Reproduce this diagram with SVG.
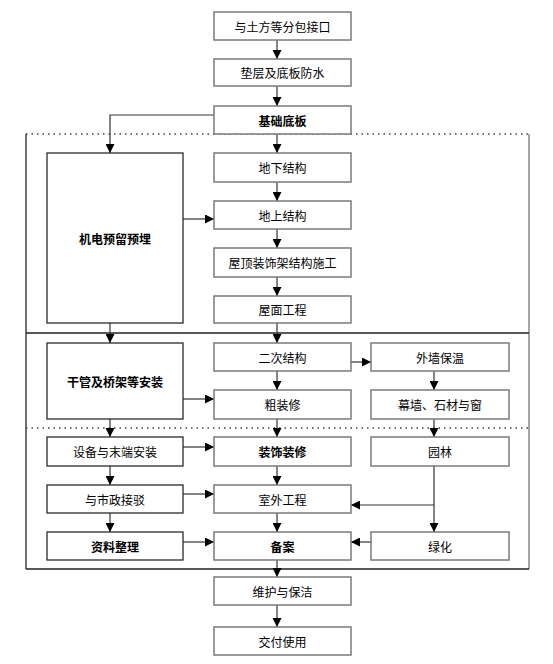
<svg xmlns="http://www.w3.org/2000/svg" width="553" height="664" viewBox="0 0 553 664">
<style>
.b{fill:#fff;stroke:#7a7a7a;stroke-width:1.5}
.l{stroke:#2a2a2a;stroke-width:1.3}
.t{font-family:"Noto Sans CJK SC","Noto Sans CJK TC",sans-serif;font-size:12px;fill:#000;text-anchor:middle;dominant-baseline:central}
.k{font-weight:bold}
.c{fill:none;stroke:#333;stroke-width:1.2}
.f{fill:none;stroke:#222;stroke-width:1.3}
.d{fill:none;stroke:#444;stroke-width:1.5;stroke-dasharray:1.5 4}
</style>
<defs>
<marker id="a" viewBox="0 0 10 10" refX="10" refY="5" markerWidth="9" markerHeight="9" markerUnits="userSpaceOnUse" orient="auto"><path d="M0,0 L10,5 L0,10 z" fill="#000"/></marker>
</defs>
<rect width="553" height="664" fill="#fff"/>
<g id="frame">
<line class="d" x1="26" y1="134" x2="529" y2="134"/>
<line class="f" x1="26" y1="134" x2="26" y2="569"/>
<line x1="529" y1="134" x2="529" y2="569" stroke="#888" stroke-width="1.5"/>
<line class="f" x1="26" y1="569" x2="529" y2="569"/>
<line class="f" x1="26" y1="333" x2="529" y2="333"/>
<line class="d" x1="26" y1="428" x2="529" y2="428"/>
</g>
<g id="connectors">
<line class="c" x1="277" y1="40" x2="277" y2="59" marker-end="url(#a)"/>
<line class="c" x1="277" y1="86" x2="277" y2="106" marker-end="url(#a)"/>
<line class="c" x1="277" y1="134" x2="277" y2="153" marker-end="url(#a)"/>
<polyline class="c" points="214,115 110,115 110,153" marker-end="url(#a)"/>
<line class="c" x1="277" y1="182" x2="277" y2="201" marker-end="url(#a)"/>
<line class="c" x1="183" y1="219" x2="214" y2="219" marker-end="url(#a)"/>
<line class="c" x1="277" y1="229" x2="277" y2="248" marker-end="url(#a)"/>
<line class="c" x1="277" y1="277" x2="277" y2="296" marker-end="url(#a)"/>
<line class="c" x1="277" y1="323" x2="277" y2="343" marker-end="url(#a)"/>
<line class="c" x1="110" y1="323" x2="110" y2="343" marker-end="url(#a)"/>
<line class="c" x1="351" y1="362" x2="371" y2="362" marker-end="url(#a)"/>
<line class="c" x1="434" y1="371" x2="434" y2="390" marker-end="url(#a)"/>
<line class="c" x1="277" y1="371" x2="277" y2="390" marker-end="url(#a)"/>
<line class="c" x1="183" y1="399" x2="214" y2="399" marker-end="url(#a)"/>
<line class="c" x1="110" y1="419" x2="110" y2="437" marker-end="url(#a)"/>
<line class="c" x1="277" y1="419" x2="277" y2="437" marker-end="url(#a)"/>
<line class="c" x1="434" y1="419" x2="434" y2="437" marker-end="url(#a)"/>
<line class="c" x1="183" y1="447" x2="214" y2="447" marker-end="url(#a)"/>
<line class="c" x1="110" y1="466" x2="110" y2="485" marker-end="url(#a)"/>
<line class="c" x1="277" y1="466" x2="277" y2="485" marker-end="url(#a)"/>
<line class="c" x1="434" y1="466" x2="434" y2="532" marker-end="url(#a)"/>
<polyline class="c" points="434,505 351,505" marker-end="url(#a)"/>
<line class="c" x1="183" y1="494" x2="214" y2="494" marker-end="url(#a)"/>
<line class="c" x1="110" y1="513" x2="110" y2="532" marker-end="url(#a)"/>
<line class="c" x1="277" y1="513" x2="277" y2="532" marker-end="url(#a)"/>
<line class="c" x1="183" y1="542" x2="214" y2="542" marker-end="url(#a)"/>
<line class="c" x1="371" y1="542" x2="351" y2="542" marker-end="url(#a)"/>
<line class="c" x1="277" y1="560" x2="277" y2="577" marker-end="url(#a)"/>
<line class="c" x1="277" y1="605" x2="277" y2="627" marker-end="url(#a)"/>
</g>
<g id="n1"><rect class="b" x="214" y="12" width="137" height="28"/><text class="t" x="282.5" y="26">与土方等分包接口</text></g>
<g id="n2"><rect class="b" x="214" y="59" width="137" height="27"/><text class="t" x="282.5" y="72.5">垫层及底板防水</text></g>
<g id="n3"><rect class="b" x="214" y="106" width="137" height="28"/><text class="t k" x="282.5" y="120">基础底板</text></g>
<g id="n4"><rect class="b" x="214" y="153" width="137" height="29"/><text class="t" x="282.5" y="167.5">地下结构</text></g>
<g id="n5"><rect class="b" x="214" y="201" width="137" height="28"/><text class="t" x="282.5" y="215">地上结构</text></g>
<g id="n6"><rect class="b" x="214" y="248" width="137" height="29"/><text class="t" x="282.5" y="262.5">屋顶装饰架结构施工</text></g>
<g id="n7"><rect class="b" x="214" y="296" width="137" height="27"/><text class="t" x="282.5" y="309.5">屋面工程</text></g>
<g id="n8"><rect class="b l" x="47" y="153" width="136" height="170"/><text class="t k" x="115" y="238">机电预留预埋</text></g>
<g id="n9"><rect class="b l" x="47" y="343" width="136" height="76"/><text class="t k" x="115" y="381">干管及桥架等安装</text></g>
<g id="n10"><rect class="b" x="214" y="343" width="137" height="28"/><text class="t" x="282.5" y="357">二次结构</text></g>
<g id="n11"><rect class="b" x="371" y="343" width="138" height="28"/><text class="t" x="440" y="357">外墙保温</text></g>
<g id="n12"><rect class="b" x="214" y="390" width="137" height="29"/><text class="t" x="282.5" y="404.5">粗装修</text></g>
<g id="n13"><rect class="b" x="371" y="390" width="138" height="29"/><text class="t" x="440" y="404.5">幕墙、石材与窗</text></g>
<g id="n14"><rect class="b l" x="47" y="437" width="136" height="29"/><text class="t" x="115" y="451.5">设备与末端安装</text></g>
<g id="n15"><rect class="b" x="214" y="437" width="137" height="29"/><text class="t k" x="282.5" y="451.5">装饰装修</text></g>
<g id="n16"><rect class="b" x="371" y="437" width="138" height="29"/><text class="t" x="440" y="451.5">园林</text></g>
<g id="n17"><rect class="b l" x="47" y="485" width="136" height="28"/><text class="t" x="115" y="499">与市政接驳</text></g>
<g id="n18"><rect class="b" x="214" y="485" width="137" height="28"/><text class="t" x="282.5" y="499">室外工程</text></g>
<g id="n19"><rect class="b l" x="47" y="532" width="136" height="28"/><text class="t k" x="115" y="546">资料整理</text></g>
<g id="n20"><rect class="b" x="214" y="532" width="137" height="28"/><text class="t k" x="282.5" y="546">备案</text></g>
<g id="n21"><rect class="b" x="371" y="532" width="138" height="28"/><text class="t" x="440" y="546">绿化</text></g>
<g id="n22"><rect class="b" x="214" y="577" width="137" height="28"/><text class="t" x="282.5" y="591">维护与保洁</text></g>
<g id="n23"><rect class="b" x="214" y="627" width="137" height="28"/><text class="t" x="282.5" y="641">交付使用</text></g>
</svg>
